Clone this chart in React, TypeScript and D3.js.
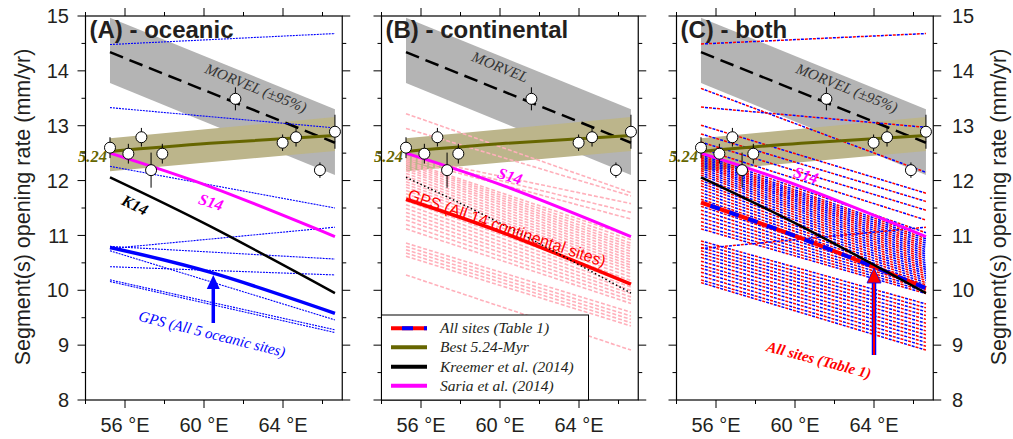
import React from 'react';
import * as d3 from 'd3';

// ---------- data ----------
const lonMajorTicks = [56, 60, 64];
const lonMinorTicks = [54, 58, 62, 66];
const rateMajorTicks = [8, 9, 10, 11, 12, 13, 14, 15];
const rateMinorTicks = [8.5, 9.5, 10.5, 11.5, 12.5, 13.5, 14.5];

const siteLon = [55.24, 56.17, 56.83, 57.32, 57.89, 61.59, 63.98, 64.66, 65.87, 66.63];
const siteRate = [12.6, 12.49, 12.79, 12.19, 12.49, 13.49, 12.69, 12.79, 12.19, 12.89];
const siteErr = [0.19, 0.18, 0.17, 0.32, 0.18, 0.21, 0.15, 0.17, 0.14, 0.31];

const lineLons = [55.24, 66.63];
const curveLons = [55.24, 60.3, 66.63];

const morvelMid = [14.34, 12.69];
const morvelUpper = [14.97, 13.3];
const morvelLower = [13.78, 12.1];

const bestMid = [12.53, 12.68, 12.82];
const bestUpper = [12.77, 13.16];
const bestLower = [12.17, 12.54];

const s14 = [12.5, 11.89, 10.98];
const k14 = [12.06, 11.17, 9.95];
const gpsOceanic = [10.78, 10.33, 9.58];
const gpsContinental = [11.66, 11.03, 10.11];
const gpsAll = [11.6, 10.95, 10.04];

const oceanicStart = [14.48, 13.33, 12.26, 10.76, 10.8, 10.43, 10.72, 10.19, 10.16];
const oceanicEnd = [14.68, 12.96, 11.5, 11.15, 10.57, 10.28, 9.46, 9.28, 9.23];

const contStart = [13.22, 12.95, 12.44, 12.42, 12.39, 12.36, 12.33, 12.3, 12.26, 12.22, 12.18, 12.13, 12.08, 12.03, 11.98, 11.93, 11.88, 11.82, 11.76, 11.7, 11.63, 11.56, 11.49, 11.42, 11.35, 11.28, 11.2, 11.12, 10.86, 10.8, 10.74, 10.68, 10.62, 10.28];
const contEnd = [11.78, 11.72, 11.58, 11.42, 11.3, 10.98, 10.92, 10.86, 10.81, 10.76, 10.71, 10.66, 10.61, 10.56, 10.51, 10.46, 10.41, 10.36, 10.3, 10.24, 10.18, 10.12, 10.06, 10.0, 9.94, 9.88, 9.82, 9.76, 9.6, 9.53, 9.47, 9.41, 9.35, 8.91];

const allStart = [14.49, 13.68, 13.34, 13.01, 12.85, 12.7, 12.58, 12.47, 12.44, 12.41, 12.38, 12.35, 12.32, 12.29, 12.26, 12.22, 12.18, 12.14, 12.1, 12.05, 12.0, 11.95, 11.9, 11.84, 11.78, 11.72, 11.66, 11.6, 11.53, 11.46, 11.39, 11.32, 11.25, 11.18, 11.12, 10.9, 10.84, 10.78, 10.76, 10.72, 10.66, 10.6, 10.53, 10.46, 10.4, 10.33, 10.26, 10.19, 10.14];
const allEnd = [14.68, 12.15, 12.97, 11.77, 11.62, 11.46, 11.28, 11.05, 10.98, 10.94, 10.9, 10.86, 10.82, 10.78, 10.74, 10.7, 10.66, 10.62, 10.58, 10.54, 10.5, 10.46, 10.42, 10.38, 10.34, 10.3, 10.26, 10.22, 10.18, 10.14, 10.1, 10.06, 10.02, 9.98, 9.94, 9.75, 9.68, 9.61, 11.15, 9.54, 9.47, 9.4, 9.33, 9.26, 9.19, 9.12, 9.05, 8.98, 8.91];

const panelTitles = ['(A) - oceanic', '(B) - continental', '(C) - both'];
const legendLabels = ['All sites (Table 1)', 'Best 5.24-Myr', 'Kreemer et al. (2014)', 'Saria et al. (2014)'];

// ---------- layout ----------
const W = 1013;
const H = 439;
const PANEL_LEFT = [85.5, 381.5, 676.5];
const PANEL_W = 256.75;
const TOP = 16;
const BOTTOM = 400;

const SERIF = '"Liberation Serif", "Times New Roman", Times, serif';
const SANS = '"Liberation Sans", Arial, Helvetica, sans-serif';
const TXT = '#231f20';
const OLIVE = '#666600';
const BAND_OLIVE = '#bcb58b';
const GRAY = '#b4b4b4';
const PINK = '#ffb0bb';

const yScale = d3.scaleLinear().domain([8, 15]).range([BOTTOM, TOP]);

function Panel({ idx }: { idx: number }) {
  const x0 = PANEL_LEFT[idx];
  const x = d3.scaleLinear().domain([54, 67]).range([x0, x0 + PANEL_W]);
  const y = yScale;
  const line = d3
    .line<[number, number]>()
    .x((d) => x(d[0]))
    .y((d) => y(d[1]));
  const curve = d3
    .line<[number, number]>()
    .x((d) => x(d[0]))
    .y((d) => y(d[1]))
    .curve(d3.curveNatural);
  const area = d3
    .area<[number, number, number]>()
    .x((d) => x(d[0]))
    .y0((d) => y(d[1]))
    .y1((d) => y(d[2]));

  const straight = (s: number, e: number) => line([[lineLons[0], s], [lineLons[1], e]]) || '';
  const curved = (v: number[]) => curve(curveLons.map((l, i) => [l, v[i]] as [number, number])) || '';

  const morvelBand = area(lineLons.map((l, i) => [l, morvelLower[i], morvelUpper[i]] as [number, number, number])) || '';
  const bestBand = area(lineLons.map((l, i) => [l, bestLower[i], bestUpper[i]] as [number, number, number])) || '';

  const xr = x0 + PANEL_W;
  const tickLen = 8;
  const minorLen = 4;

  return (
    <g>
      <path d={morvelBand} fill={GRAY} />
      <path d={bestBand} fill={BAND_OLIVE} />
      <path d={straight(morvelMid[0], morvelMid[1])} fill="none" stroke="#000" strokeWidth={2.5} strokeDasharray="14,7" />

      {idx === 0 &&
        oceanicStart.map((s, i) => (
          <path key={'o' + i} d={straight(s, oceanicEnd[i])} fill="none" stroke="#0000ff" strokeWidth={1.1} strokeDasharray="2,1" />
        ))}

      {idx === 1 &&
        contStart.map((s, i) => (
          <path key={'c' + i} d={straight(s, contEnd[i])} fill="none" stroke={PINK} strokeWidth={1.6} strokeDasharray="4,2" />
        ))}

      {idx === 2 &&
        allStart.map((s, i) => (
          <g key={'a' + i}>
            <path d={straight(s, allEnd[i])} fill="none" stroke="#ff0000" strokeWidth={1.5} strokeDasharray="3,5" />
            <path d={straight(s, allEnd[i])} fill="none" stroke="#0000ff" strokeWidth={1.5} strokeDasharray="3,5" strokeDashoffset={4} />
          </g>
        ))}

      <path d={curved(s14)} fill="none" stroke="#ff00ff" strokeWidth={3} />

      {idx === 0 && <path d={curved(gpsOceanic)} fill="none" stroke="#0000ff" strokeWidth={3.5} />}
      {idx === 1 && <path d={curved(gpsContinental)} fill="none" stroke="#ff0000" strokeWidth={3.5} />}
      {idx === 2 && (
        <g>
          <path d={curved(gpsAll)} fill="none" stroke="#ff0000" strokeWidth={4} />
          <path d={curved(gpsAll)} fill="none" stroke="#0000ff" strokeWidth={4} strokeDasharray="10,10" strokeDashoffset={10} />
        </g>
      )}

      {idx === 1 ? (
        <path d={curved(k14)} fill="none" stroke="#000" strokeWidth={1.5} strokeDasharray="1.5,2.5" />
      ) : (
        <path d={curved(k14)} fill="none" stroke="#000" strokeWidth={2.5} />
      )}

      <path d={curved(bestMid)} fill="none" stroke={OLIVE} strokeWidth={3} />

      {siteLon.map((l, i) => (
        <line key={'e' + i} x1={x(l)} x2={x(l)} y1={y(siteRate[i] + siteErr[i])} y2={y(siteRate[i] - siteErr[i])} stroke="#000" strokeWidth={1} />
      ))}
      {siteLon.map((l, i) => (
        <circle key={'p' + i} cx={x(l)} cy={y(siteRate[i])} r={5.5} fill="#fff" stroke="#000" strokeWidth={1} />
      ))}

      {/* labels */}
      <text x={x(lineLons[0]) - 3} y={y(bestMid[0]) + 11} textAnchor="end" fontFamily={SERIF} fontStyle="italic" fontWeight="bold" fontSize={16.5} fill={OLIVE}>
        5.24
      </text>

      {idx === 0 && (
        <g>
          <text transform="translate(256,88) rotate(22)" textAnchor="middle" dominantBaseline="central" fontFamily={SERIF} fontStyle="italic" fontSize={15} fill="#333">
            MORVEL (±95%)
          </text>
          <text transform="translate(135,205) rotate(26)" textAnchor="middle" dominantBaseline="central" fontFamily={SERIF} fontStyle="italic" fontWeight="bold" fontSize={16} fill="#000">
            K14
          </text>
          <text transform="translate(211,202) rotate(18)" textAnchor="middle" dominantBaseline="central" fontFamily={SERIF} fontStyle="italic" fontWeight="bold" fontSize={16} fill="#ff00ff">
            S14
          </text>
          <text transform="translate(212,334) rotate(14)" textAnchor="middle" dominantBaseline="central" fontFamily={SERIF} fontStyle="italic" fontSize={15} fill="#0000ff">
            GPS (All 5 oceanic sites)
          </text>
          <line x1={x(60.47)} x2={x(60.47)} y1={323} y2={286} stroke="#0000ff" strokeWidth={3.5} />
          <path d={`M${x(60.47)},275 L${x(60.47) - 6.5},289 L${x(60.47) + 6.5},289 Z`} fill="#0000ff" />
        </g>
      )}

      {idx === 1 && (
        <g>
          <text transform="translate(500,67) rotate(22)" textAnchor="middle" dominantBaseline="central" fontFamily={SERIF} fontStyle="italic" fontSize={15} fill="#333">
            MORVEL
          </text>
          <text transform="translate(510,176) rotate(18)" textAnchor="middle" dominantBaseline="central" fontFamily={SERIF} fontStyle="italic" fontWeight="bold" fontSize={16} fill="#ff00ff">
            S14
          </text>
          <text transform="translate(507,228) rotate(19)" textAnchor="middle" dominantBaseline="central" fontFamily={SANS} fontSize={16} fill="#ff0000">
            GPS (All 14 continental sites)
          </text>
        </g>
      )}

      {idx === 2 && (
        <g>
          <text transform="translate(847,88) rotate(22)" textAnchor="middle" dominantBaseline="central" fontFamily={SERIF} fontStyle="italic" fontSize={15} fill="#333">
            MORVEL (±95%)
          </text>
          <text transform="translate(806,175) rotate(18)" textAnchor="middle" dominantBaseline="central" fontFamily={SERIF} fontStyle="italic" fontWeight="bold" fontSize={16} fill="#ff00ff">
            S14
          </text>
          <text transform="translate(819,360) rotate(15)" textAnchor="middle" dominantBaseline="central" fontFamily={SERIF} fontStyle="italic" fontWeight="bold" fontSize={15} fill="#ff0000">
            All sites (Table 1)
          </text>
          <line x1={x(64)} x2={x(64)} y1={355} y2={281} stroke="#0000ff" strokeWidth={4.5} />
          <line x1={x(64)} x2={x(64)} y1={355} y2={281} stroke="#ff0000" strokeWidth={2} />
          <path d={`M${x(64)},268 L${x(64) - 7},283 L${x(64) + 7},283 Z`} fill="#ff0000" stroke="#0000ff" strokeWidth={0.8} />
        </g>
      )}

      <text x={x0 + 4} y={38} fontFamily={SANS} fontWeight="bold" fontSize={24} fill={TXT}>
        {panelTitles[idx]}
      </text>

      {/* frame */}
      <rect x={x0} y={TOP} width={PANEL_W} height={BOTTOM - TOP} fill="none" stroke="#000" strokeWidth={1.2} />
      {rateMajorTicks.map((t) => (
        <g key={'ym' + t}>
          <line x1={x0 - tickLen} x2={x0} y1={y(t)} y2={y(t)} stroke="#000" strokeWidth={1} />
          <line x1={xr} x2={xr + tickLen} y1={y(t)} y2={y(t)} stroke="#000" strokeWidth={1} />
        </g>
      ))}
      {rateMinorTicks.map((t) => (
        <g key={'yn' + t}>
          <line x1={x0 - minorLen} x2={x0} y1={y(t)} y2={y(t)} stroke="#000" strokeWidth={1} />
          <line x1={xr} x2={xr + minorLen} y1={y(t)} y2={y(t)} stroke="#000" strokeWidth={1} />
        </g>
      ))}
      {lonMajorTicks.map((t) => (
        <g key={'xm' + t}>
          <line x1={x(t)} x2={x(t)} y1={TOP - tickLen} y2={TOP} stroke="#000" strokeWidth={1} />
          <line x1={x(t)} x2={x(t)} y1={BOTTOM} y2={BOTTOM + tickLen} stroke="#000" strokeWidth={1} />
          <text x={x(t)} y={432} textAnchor="middle" fontFamily={SANS} fontSize={20} fill={TXT}>
            {t} °E
          </text>
        </g>
      ))}
      {lonMinorTicks.map((t) => (
        <g key={'xn' + t}>
          <line x1={x(t)} x2={x(t)} y1={TOP - minorLen} y2={TOP} stroke="#000" strokeWidth={1} />
          <line x1={x(t)} x2={x(t)} y1={BOTTOM} y2={BOTTOM + minorLen} stroke="#000" strokeWidth={1} />
        </g>
      ))}
    </g>
  );
}

function Legend() {
  const lx = 381.5;
  const ly = 315;
  const rows = [328.3, 347.3, 366.7, 385.7];
  const sw0 = 391;
  const sw1 = 427;
  return (
    <g>
      <rect x={lx} y={ly} width={207} height={BOTTOM - ly} fill="#fff" stroke="#000" strokeWidth={1} />
      <line x1={sw0} x2={sw1} y1={rows[0]} y2={rows[0]} stroke="#ff0000" strokeWidth={4} />
      <line x1={sw0} x2={sw1} y1={rows[0]} y2={rows[0]} stroke="#0000ff" strokeWidth={4} strokeDasharray="11,11" strokeDashoffset={-11} />
      <line x1={sw0} x2={sw1} y1={rows[1]} y2={rows[1]} stroke={OLIVE} strokeWidth={4} />
      <line x1={sw0} x2={sw1} y1={rows[2]} y2={rows[2]} stroke="#000" strokeWidth={4} />
      <line x1={sw0} x2={sw1} y1={rows[3]} y2={rows[3]} stroke="#ff00ff" strokeWidth={4} />
      {legendLabels.map((t, i) => (
        <text key={t} x={440} y={rows[i] + 5} fontFamily={SERIF} fontStyle="italic" fontSize={15.5} fill={TXT}>
          {t}
        </text>
      ))}
    </g>
  );
}

export default function App() {
  const y = yScale;
  return (
    <svg width={W} height={H} viewBox={`0 0 ${W} ${H}`} style={{ position: 'absolute', left: 0, top: 0, background: '#fff' }}>
      <rect x={0} y={0} width={W} height={H} fill="#fff" />
      {[0, 1, 2].map((i) => (
        <Panel key={i} idx={i} />
      ))}
      <Legend />
      {rateMajorTicks.map((t) => (
        <g key={'yl' + t}>
          <text x={69} y={y(t)} dy="0.36em" textAnchor="end" fontFamily={SANS} fontSize={20} fill={TXT}>
            {t}
          </text>
          <text x={952} y={y(t)} dy="0.36em" textAnchor="start" fontFamily={SANS} fontSize={20} fill={TXT}>
            {t}
          </text>
        </g>
      ))}
      <text transform="translate(30,207) rotate(-90)" textAnchor="middle" fontFamily={SANS} fontSize={21.5} fill={TXT}>
        Segment(s) opening rate (mm/yr)
      </text>
      <text transform="translate(1006,207) rotate(-90)" textAnchor="middle" fontFamily={SANS} fontSize={21.5} fill={TXT}>
        Segment(s) opening rate (mm/yr)
      </text>
    </svg>
  );
}
